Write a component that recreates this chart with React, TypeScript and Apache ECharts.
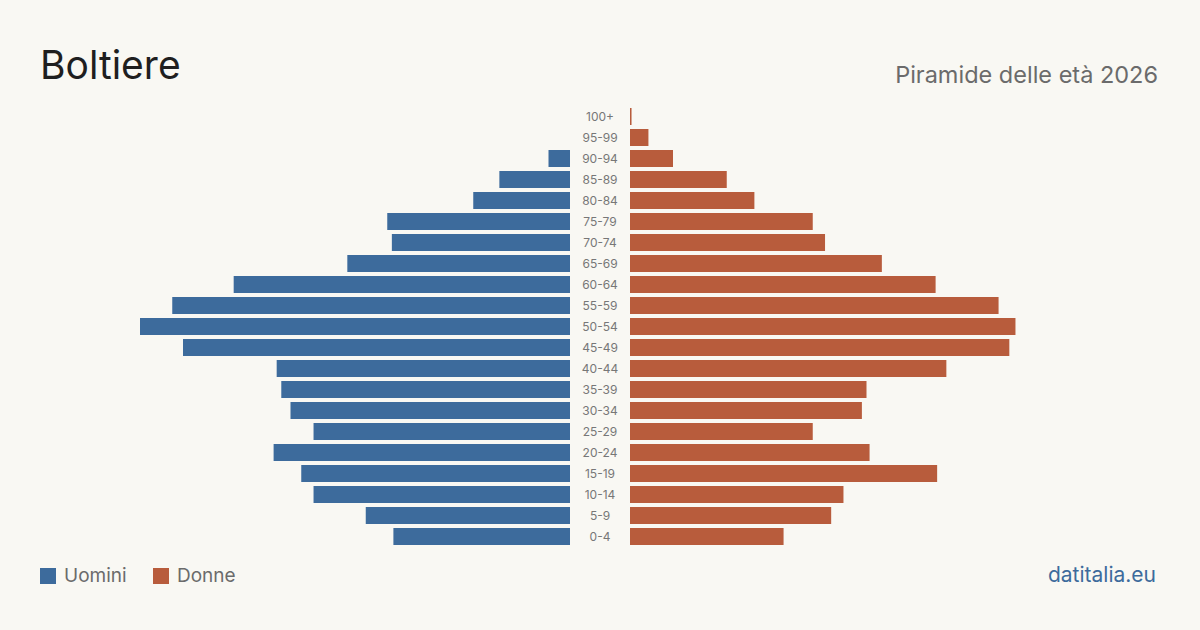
import React, { useEffect, useRef } from "react";
import * as echarts from "echarts";

const ageGroups = ["100+", "95-99", "90-94", "85-89", "80-84", "75-79", "70-74", "65-69", "60-64", "55-59", "50-54", "45-49", "40-44", "35-39", "30-34", "25-29", "20-24", "15-19", "10-14", "5-9", "0-4"];
const men = [0, 0, 14, 46, 63, 119, 116, 145, 219, 259, 280, 252, 191, 188, 182, 167, 193, 175, 167, 133, 115];
const women = [1, 12, 28, 63, 81, 119, 127, 164, 199, 240, 251, 247, 206, 154, 151, 119, 156, 200, 139, 131, 100];
const maxValue = 280;

const BLUE = "#3d6b9c";
const ORANGE = "#b85c3c";
const FONT = "Inter, 'Noto Sans', sans-serif";

export default function App() {
  const ref = useRef<HTMLDivElement>(null);
  useEffect(() => {
    const chart = echarts.init(ref.current!, null, { renderer: "svg" });
    chart.setOption({
      animation: false,
      backgroundColor: "#f9f8f3",
      textStyle: { fontFamily: FONT },
      graphic: [
        { type: "text", left: 40, top: 45, style: { text: "Boltiere", font: `400 39px ${FONT}`, fill: "#1f1f1f" } },
        { type: "text", right: 42, top: 62, style: { text: "Piramide delle età 2026", font: `400 23.5px ${FONT}`, fill: "#6b6b6b" } },
        { type: "rect", left: 40, top: 568, shape: { width: 16, height: 16 }, style: { fill: BLUE } },
        { type: "text", left: 64, top: 566, style: { text: "Uomini", font: `400 19px ${FONT}`, fill: "#6b6b6b" } },
        { type: "rect", left: 153, top: 568, shape: { width: 16, height: 16 }, style: { fill: ORANGE } },
        { type: "text", left: 177, top: 566, style: { text: "Donne", font: `400 19px ${FONT}`, fill: "#6b6b6b" } },
        { type: "text", right: 44, top: 564, style: { text: "datitalia.eu", font: `400 21px ${FONT}`, fill: BLUE } },
      ],
      grid: [
        { left: 140, width: 430, top: 106, height: 441 },
        { left: 630, width: 430, top: 106, height: 441 },
      ],
      xAxis: [
        { type: "value", gridIndex: 0, min: 0, max: maxValue, inverse: true, show: false },
        { type: "value", gridIndex: 1, min: 0, max: maxValue, show: false },
      ],
      yAxis: [
        {
          type: "category", gridIndex: 0, data: ageGroups, inverse: true, position: "right",
          axisLine: { show: false }, axisTick: { show: false },
          axisLabel: { show: true, align: "center", margin: 30, color: "#777", fontSize: 12, fontFamily: FONT },
        },
        {
          type: "category", gridIndex: 1, data: ageGroups, inverse: true,
          axisLine: { show: false }, axisTick: { show: false }, axisLabel: { show: false },
        },
      ],
      series: [
        { type: "bar", name: "Uomini", xAxisIndex: 0, yAxisIndex: 0, data: men, barWidth: 17, itemStyle: { color: BLUE } },
        { type: "bar", name: "Donne", xAxisIndex: 1, yAxisIndex: 1, data: women, barWidth: 17, itemStyle: { color: ORANGE } },
      ],
    });
    return () => chart.dispose();
  }, []);
  return <div ref={ref} style={{ width: 1200, height: 630, position: "absolute", left: 0, top: 0 }} />;
}
